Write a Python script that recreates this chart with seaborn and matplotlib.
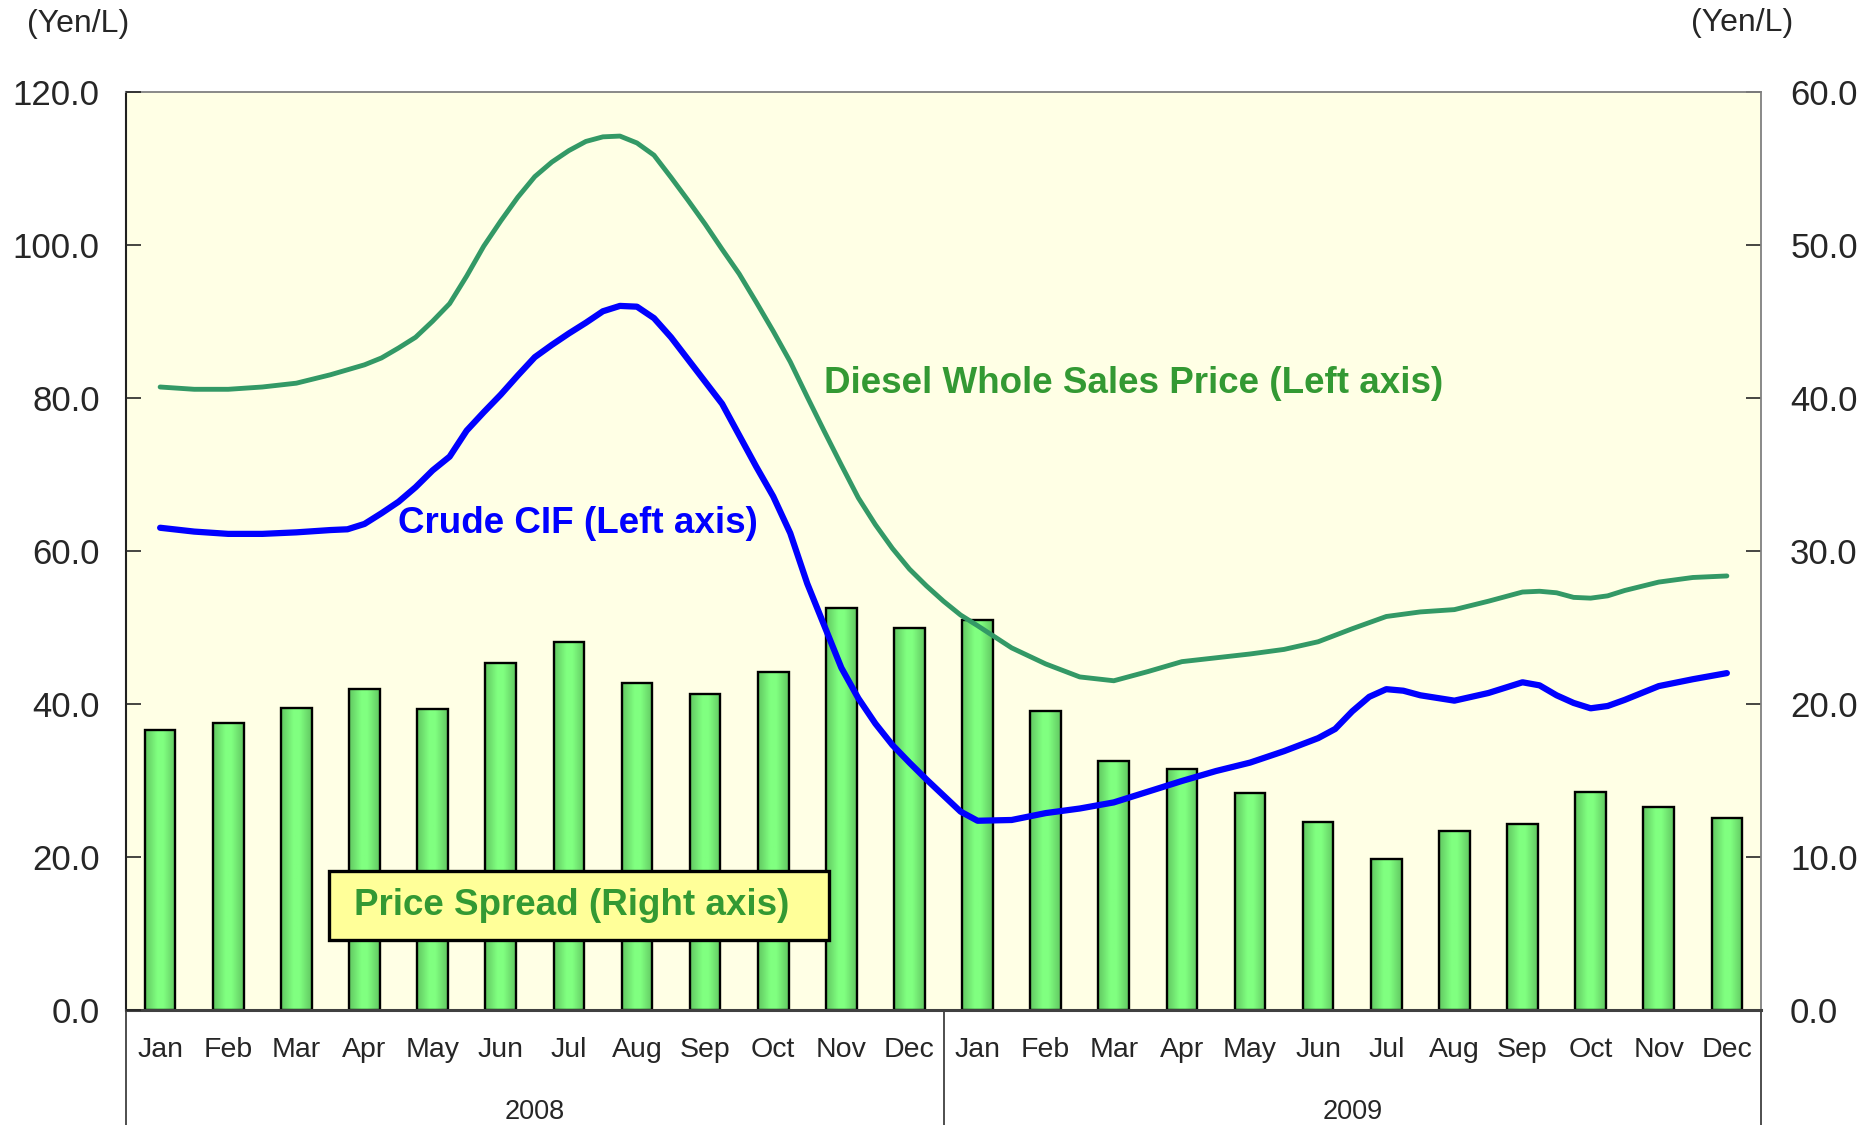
import numpy as np
import matplotlib
matplotlib.use("Agg")
import matplotlib.pyplot as plt
import matplotlib.transforms as mtransforms
from matplotlib.colors import LinearSegmentedColormap
from matplotlib.patches import Rectangle
import seaborn as sns

sns.set_style("white")
plt.rcParams['font.family'] = ['Liberation Sans', 'DejaVu Sans']

# --- data ---
months = ['Jan', 'Feb', 'Mar', 'Apr', 'May', 'Jun', 'Jul', 'Aug', 'Sep', 'Oct', 'Nov', 'Dec']
years = ['2008', '2009']
month_labels = months * 2

# price spread, right axis (Yen/L), one per month
spread = [18.3, 18.8, 19.8, 21.0, 19.7, 22.7, 24.1, 21.4, 20.7, 22.1, 26.3, 25.0,
          25.5, 19.6, 16.3, 15.8, 14.2, 12.3, 9.9, 11.7, 12.2, 14.3, 13.3, 12.6]

# diesel wholesale price, left axis; x = month index (0 = Jan 2008)
diesel_x = [0, 0.5, 1, 1.5, 2, 2.5, 3, 3.25, 3.5, 3.75, 4, 4.25, 4.5, 4.75,
            5, 5.25, 5.5, 5.75, 6, 6.25, 6.5, 6.75, 7, 7.25, 7.5, 7.75,
            8, 8.25, 8.5, 8.75, 9, 9.25, 9.5, 9.75, 10, 10.25, 10.5, 10.75,
            11, 11.25, 11.5, 11.75, 12, 12.5, 13, 13.5, 14, 14.5, 15, 15.5,
            16, 16.5, 17, 17.5, 18, 18.5, 19, 19.5, 20, 20.25, 20.5, 20.75,
            21, 21.25, 21.5, 22, 22.5, 23]
diesel = [81.5, 81.2, 81.2, 81.5, 82.0, 83.1, 84.4, 85.3, 86.6, 88.0, 90.1, 92.4, 96.0, 99.9,
          103.2, 106.3, 109.0, 110.9, 112.4, 113.6, 114.2, 114.3, 113.4, 111.8, 108.9, 105.9,
          102.8, 99.5, 96.3, 92.6, 88.8, 84.8, 80.2, 75.7, 71.3, 67.0, 63.5, 60.4,
          57.7, 55.5, 53.5, 51.7, 50.3, 47.4, 45.3, 43.6, 43.1, 44.3, 45.6, 46.1,
          46.6, 47.2, 48.2, 49.9, 51.5, 52.1, 52.4, 53.5, 54.7, 54.8, 54.6, 54.0,
          53.9, 54.2, 54.9, 56.0, 56.6, 56.8]

# crude CIF, left axis
crude_x = [0, 0.5, 1, 1.5, 2, 2.5, 2.75, 3, 3.25, 3.5, 3.75, 4, 4.25, 4.5, 4.75,
           5, 5.25, 5.5, 5.75, 6, 6.25, 6.5, 6.75, 7, 7.25, 7.5, 7.75,
           8, 8.25, 8.5, 8.75, 9, 9.25, 9.5, 9.75, 10, 10.25, 10.5, 10.75,
           11, 11.25, 11.5, 11.75, 12, 12.5, 13, 13.5, 14, 14.5, 15, 15.5,
           16, 16.5, 17, 17.25, 17.5, 17.75, 18, 18.25, 18.5, 19, 19.5, 20, 20.25,
           20.5, 20.75, 21, 21.25, 21.5, 22, 22.5, 23]
crude = [63.1, 62.6, 62.3, 62.3, 62.5, 62.8, 62.9, 63.6, 65.0, 66.5, 68.4, 70.6, 72.4, 75.8, 78.2,
         80.5, 83.0, 85.4, 87.0, 88.5, 89.9, 91.4, 92.1, 92.0, 90.5, 88.0, 85.1,
         82.2, 79.3, 75.2, 71.1, 67.2, 62.4, 55.8, 50.3, 44.8, 40.8, 37.5, 34.7,
         32.4, 30.2, 28.1, 26.0, 24.8, 24.9, 25.8, 26.4, 27.2, 28.6, 30.0, 31.3,
         32.4, 33.9, 35.6, 36.8, 39.1, 41.0, 42.0, 41.8, 41.2, 40.5, 41.5, 42.9, 42.5,
         41.2, 40.2, 39.5, 39.8, 40.6, 42.4, 43.3, 44.1]

fig = plt.figure(figsize=(18.65, 11.25), dpi=100)
ax = fig.add_axes([0.0676, 0.1018, 0.8766, 0.816])
ax.set_facecolor('#FFFFE5')

# bars (right axis scale)
sns.barplot(x=list(range(24)), y=spread, ax=ax, color='#80FF80', saturation=1,
            width=0.45, edgecolor='black', linewidth=1.7)

# gradient fill on each bar
grad_cmap = LinearSegmentedColormap.from_list(
    'bar', [(0, '#62C862'), (0.4, '#80FF80'), (0.6, '#80FF80'), (1, '#62C862')])
grad = np.linspace(0, 1, 64).reshape(1, -1)
for p in list(ax.patches):
    x0, w, h = p.get_x(), p.get_width(), p.get_height()
    im = ax.imshow(grad, extent=[x0, x0 + w, 0, h], aspect='auto', cmap=grad_cmap,
                   zorder=p.get_zorder() - 0.1, interpolation='bilinear')
    im.set_clip_path(p)
    p.set_facecolor('none')

ax.set_xlim(-0.5, 23.5)
ax.set_ylim(0, 60)

# lines (left axis scale)
ax2 = ax.twinx()
sns.lineplot(x=diesel_x, y=diesel, ax=ax2, color='#339966', linewidth=3.5)
sns.lineplot(x=crude_x, y=crude, ax=ax2, color='#0000FF', linewidth=4.5)
ax2.set_ylim(0, 120)
ax2.set_xlim(-0.5, 23.5)
ax2.set_xlabel('')
ax2.set_ylabel('')

ax.yaxis.tick_right()
ax2.yaxis.tick_left()

ax.set_yticks(np.arange(0, 61, 10))
ax.set_yticklabels([f'{v:.1f}' for v in np.arange(0, 61, 10)])
ax2.set_yticks(np.arange(0, 121, 20))
ax2.set_yticklabels([f'{v:.1f}' for v in np.arange(0, 121, 20)])
ax.tick_params(axis='y', direction='in', length=11, width=1.2, pad=21, labelsize=25,
               right=True, left=False)
ax2.tick_params(axis='y', direction='in', length=11, width=1.2, pad=19, labelsize=25,
                left=True, right=False)

ax.set_xticks(range(24))
ax.set_xticklabels(month_labels)
ax.tick_params(axis='x', length=0, pad=19, labelsize=20.5)
ax.set_xlabel('')
ax.set_ylabel('')

for s in ax2.spines.values():
    s.set_visible(False)
ax.spines['top'].set_color('#808080')
ax.spines['right'].set_color('#808080')
ax.spines['left'].set_color('#202020')
ax.spines['bottom'].set_color('#404040')
ax.spines['top'].set_linewidth(1.3)
ax.spines['right'].set_linewidth(1.3)
ax.spines['left'].set_linewidth(1.5)
ax.spines['bottom'].set_linewidth(2.2)

# two-level category axis
trans = mtransforms.blended_transform_factory(ax.transData, ax.transAxes)
for xv in [-0.5, 11.5, 23.5]:
    ax.plot([xv, xv], [0, -0.13], transform=trans, color='#303030', lw=1.2, clip_on=False)
for i, yr in enumerate(years):
    ax.text(5.5 + 12 * i, -0.111, yr, transform=trans, ha='center', va='center', fontsize=19.5)

# series labels
ax2.text(9.75, 81.9, 'Diesel Whole Sales Price (Left axis)', color='#339933',
         fontsize=26.5, fontweight='bold', ha='left', va='center')
ax2.text(3.49, 63.7, 'Crude CIF (Left axis)', color='#0000FF',
         fontsize=26.5, fontweight='bold', ha='left', va='center')
ax2.add_patch(Rectangle((2.48, 9.2), 7.34, 9.0, facecolor='#FFFF99', edgecolor='black',
                        lw=2.4, zorder=5))
ax2.text(6.04, 13.7, 'Price Spread (Right axis)', color='#339933',
         fontsize=26.5, fontweight='bold', ha='center', va='center', zorder=6)

fig.text(78 / 1865, 1 - 24 / 1125, '(Yen/L)', ha='center', va='center', fontsize=23)
fig.text(1742 / 1865, 1 - 23 / 1125, '(Yen/L)', ha='center', va='center', fontsize=23)

fig.savefig('out.png', dpi=100, facecolor='white')
